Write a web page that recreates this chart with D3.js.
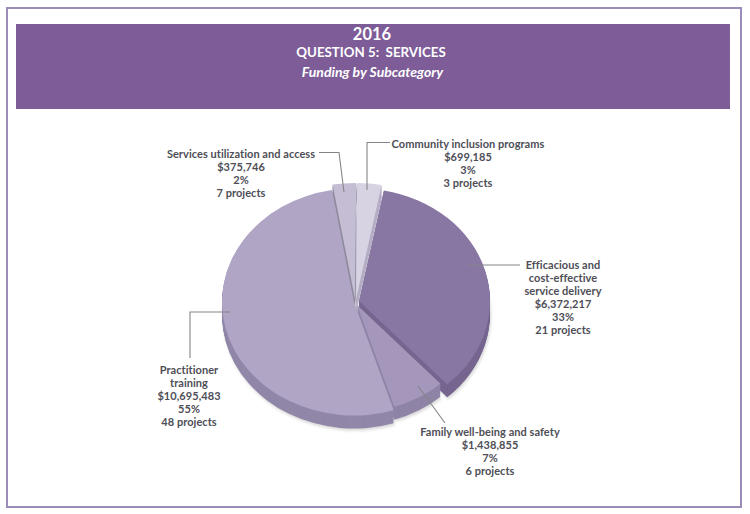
<!DOCTYPE html>
<html><head><meta charset="utf-8">
<script src="https://cdn.jsdelivr.net/npm/d3@7"></script>
<style>html,body{margin:0;background:#fff}svg{display:block}</style>
</head><body><svg id="c" width="750" height="514"></svg>
<script>
const titleLines = ["2016", "QUESTION 5:  SERVICES", "Funding by Subcategory"];
const categories = ["Community inclusion programs", "Efficacious and cost-effective service delivery", "Family well-being and safety", "Practitioner training", "Services utilization and access"];
const amounts = [699185, 6372217, 1438855, 10695483, 375746];
const percents = ["3%", "33%", "7%", "55%", "2%"];
const projects = ["3 projects", "21 projects", "6 projects", "48 projects", "7 projects"];
// wedge sizes (in percent of the circle); the printed labels use the amounts above
const wedgeShares = [2.9, 35.2, 6.9, 52.2, 2.8];
const wedgeRadii = [135, 131, 124, 132, 135];
const topColors = ["#d8d3e3", "#8977a3", "#a497bb", "#b0a5c5", "#c5bdd4"];
const sideColors = ["#b5aec6", "#75658f", "#8f84a6", "#9187a8", "#8f8a9c"];
const labelLines = [
  ["Community inclusion programs"],
  ["Efficacious and", "cost-effective", "service delivery"],
  ["Family well-being and safety"],
  ["Practitioner", "training"],
  ["Services utilization and access"]
];
const labelAnchors = [[468,148],[563,269],[490,436],[189,374],[241,158]];
const leaders = [
  [[390,142.5],[367,142.5],[367,190]],
  [[467,265],[520,265]],
  [[418,386],[445,423]],
  [[230,312],[190,312],[190,358]],
  [[319,152.5],[339,152.5],[344,192]]
];
const explode = [[0,-3],[3,-1],[1,3],[-2,0],[-1,-3]];

const svg = d3.select("#c");
const font = "Lato, 'Open Sans', sans-serif";
svg.append("rect").attr("x",7).attr("y",8).attr("width",734).attr("height",499).attr("fill","#fff").attr("stroke","#9c8cb9").attr("stroke-width",2);
svg.append("rect").attr("x",16).attr("y",24).attr("width",714).attr("height",85).attr("fill","#7d5c98");
const th = svg.append("g").attr("fill","#fff").attr("text-anchor","middle").attr("font-family",font);
th.append("text").attr("x",372).attr("y",40).attr("font-size",16.5).attr("font-weight",700).text(titleLines[0]);
th.append("text").attr("x",371).attr("y",57).attr("font-size",13.3).attr("font-weight",700).style("white-space","pre").text(titleLines[1]);
th.append("text").attr("x",372.5).attr("y",77).attr("font-size",14).attr("font-weight",700).attr("font-style","italic").text(titleLines[2]);

const SY=0.86, DEPTH=13, cx=356, cy=302;
const rot = 0.5*Math.PI/180;
const pie = d3.pie().sort(null).startAngle(rot).endAngle(2*Math.PI+rot);
const arcs = pie(wedgeShares);
const arcOf = i => d3.arc().innerRadius(0).outerRadius(wedgeRadii[i]);
const defs = svg.append("defs");
const f = defs.append("filter").attr("id","sh").attr("x","-10%").attr("y","-10%").attr("width","120%").attr("height","125%");
f.append("feGaussianBlur").attr("stdDeviation",1.8);
const pie3 = svg.append("g");
const order = [4,0,1,3,2];
function place(i,dy,dx=0){return `translate(${cx+explode[i][0]+dx},${cy+explode[i][1]+dy}) scale(1,${SY})`;}
pie3.selectAll("path.shadow").data(arcs).join("path").attr("class","shadow").attr("d",(d,i)=>arcOf(i)(d)).attr("fill","#999").attr("opacity",0.4).attr("filter","url(#sh)").attr("transform",(d,i)=>place(i,DEPTH+2,1));
d3.range(DEPTH,0,-1).forEach(dy=>{
  order.forEach(i=>{
    pie3.append("path").attr("d",arcOf(i)(arcs[i])).attr("fill",sideColors[i]).attr("transform",place(i,dy));
  });
});
order.forEach(i=>{
  pie3.append("path").attr("d",arcOf(i)(arcs[i])).attr("fill",topColors[i]).attr("transform",place(i,0));
});

const line = d3.line();
svg.selectAll("path.lead").data(leaders).join("path").attr("class","lead").attr("d",line).attr("fill","none").attr("stroke","#85848a").attr("stroke-width",1.1);
categories.forEach((c,i)=>{
  const lines=[...labelLines[i], "$"+d3.format(",")(amounts[i]), percents[i], projects[i]];
  const t=svg.append("text").attr("text-anchor","middle").attr("font-family",font).attr("font-size",11).attr("font-weight",700).attr("fill","#4e4e57").attr("letter-spacing",0.05);
  lines.forEach((l,k)=>t.append("tspan").attr("x",labelAnchors[i][0]).attr("y",labelAnchors[i][1]+k*13).text(l));
});
</script></body></html>
